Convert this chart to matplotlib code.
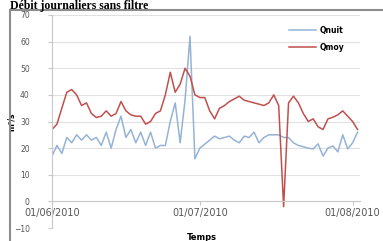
import numpy as np
import pandas as pd
import matplotlib
matplotlib.use("Agg")
import matplotlib.pyplot as plt
import matplotlib.dates as mdates
from matplotlib.patches import Rectangle

# débits journaliers (m3/s)
dates = pd.date_range("2010-06-01", periods=63, freq="D")
qmoy = [27, 29, 35, 41, 42, 40, 36, 37, 33, 31.5, 32, 34, 32, 33, 37.5, 34,
        32.5, 32, 32, 29, 30, 33, 34, 40, 48.5, 41, 44, 50, 47, 40, 39, 39,
        34, 31, 35, 36, 37.5, 38.5, 39.5, 38, 37.5, 37, 36.5, 36, 37, 40, 36,
        -2, 37, 39.5, 37, 33, 30, 31, 28, 27, 31, 31.6, 32.5, 34, 32, 30, 27]
qnuit = [17, 21, 18, 24, 22, 25, 23, 25, 23, 24, 21, 26, 20, 27, 32, 24,
         27, 22, 26, 21, 26, 20, 21, 21, 30, 37, 22, 38, 62, 16, 20, 21.5,
         23, 24.5, 23.5, 24, 24.5, 23, 22, 24.5, 24, 26, 22, 24, 25, 25, 25,
         24, 24, 22, 21, 20.5, 20, 19.7, 21.6, 17, 20, 20.8, 18.6, 25, 19.7, 22, 26]
xticks = ["2010-06-01", "2010-07-01", "2010-08-01"]

W, H = 383, 241
fig = plt.figure(figsize=(W / 100, H / 100), dpi=100)
ax = fig.add_axes([52 / W, 1 - 228 / H, (360 - 52) / W, (228 - 15) / H])

ax.plot(dates, qnuit, color="#95b3d7", lw=1.1, label="Qnuit")
ax.plot(dates, qmoy, color="#c0504d", lw=1.1, label="Qmoy")

ax.set_ylim(-10, 70)
ax.set_yticks(range(-10, 71, 10))
ax.set_xlim(dates[0], dates[0] + pd.Timedelta(days=62.5))
ax.set_xticks(pd.to_datetime(xticks))
ax.xaxis.set_major_formatter(mdates.DateFormatter("%d/%m/%Y"))

ax.grid(axis="y", color="#e0e0e0", lw=0.8)
ax.set_axisbelow(True)
for s in ["top", "right"]:
    ax.spines[s].set_visible(False)
ax.spines["bottom"].set_position(("data", 0))
ax.spines["bottom"].set_color("#c8c8c8")
ax.spines["left"].set_color("#c8c8c8")
ax.tick_params(axis="both", colors="#c8c8c8", labelcolor="#555555",
               labelsize=5.5, length=3)
ax.tick_params(axis="x", labelsize=7, pad=2)
ax.tick_params(axis="y", pad=13)

ax.set_ylabel("m³/s", fontsize=5.5, fontweight="bold")
ax.yaxis.set_label_coords(-36 / 308, 0.5)
fig.text(202 / W, 1 - 238 / H, "Temps", ha="center", va="center",
         fontsize=6, fontweight="bold")

ax.legend(loc="upper right", bbox_to_anchor=(0.97, 0.98), frameon=False,
          prop={"size": 5.5, "weight": "bold"}, handlelength=3.5,
          labelspacing=1.0, handletextpad=0.4)

fig.patches.append(Rectangle((10 / W, -0.1), 1.2, 1 - 10 / H + 0.1,
                             transform=fig.transFigure, fill=False,
                             edgecolor="#8c8c8c", lw=1.5))
fig.text(10 / W, 1 - 8.5 / H, "Débit journaliers sans filtre", ha="left",
         va="baseline", fontsize=8.5, fontweight="bold",
         family="Liberation Serif")

fig.savefig("out.png", dpi=100)
